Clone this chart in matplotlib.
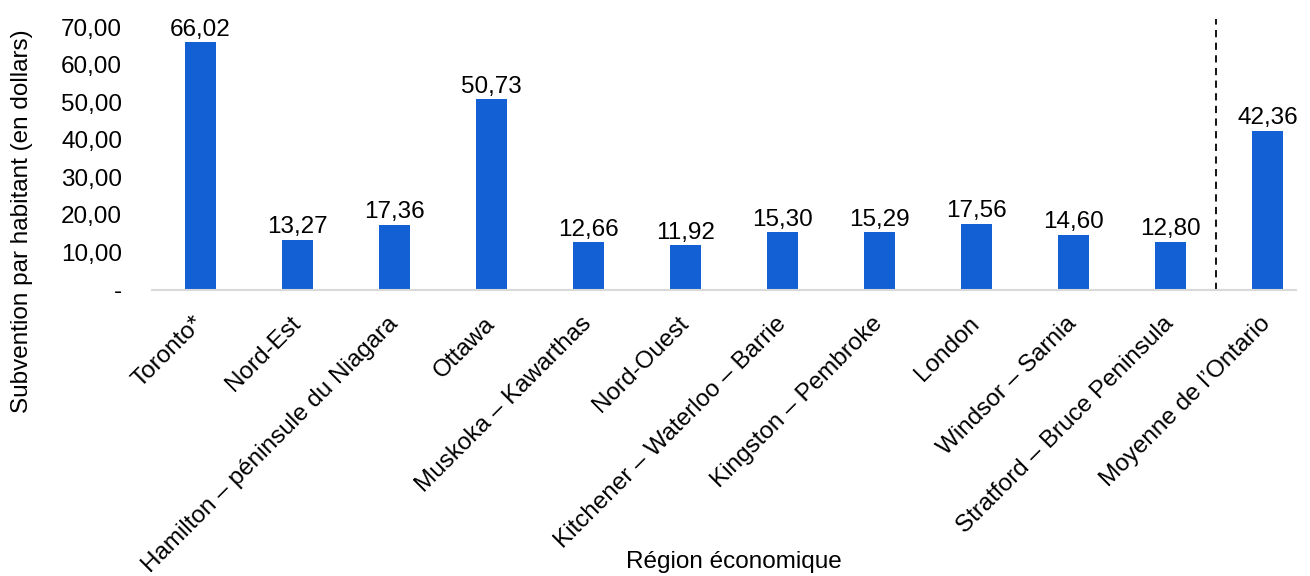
import matplotlib.pyplot as plt

plt.rcParams['font.family'] = ['Liberation Sans', 'DejaVu Sans']

regions = ['Toronto*', 'Nord-Est', 'Hamilton – péninsule du Niagara', 'Ottawa',
           'Muskoka – Kawarthas', 'Nord-Ouest', 'Kitchener – Waterloo – Barrie',
           'Kingston – Pembroke', 'London', 'Windsor – Sarnia',
           'Stratford – Bruce Peninsula', "Moyenne de l’Ontario"]
subvention = [66.02, 13.27, 17.36, 50.73, 12.66, 11.92, 15.30, 15.29, 17.56, 14.60, 12.80, 42.36]
yticks = [0, 10, 20, 30, 40, 50, 60, 70]
ytick_labels = ['-', '10,00', '20,00', '30,00', '40,00', '50,00', '60,00', '70,00']

fs = 17.5
fig = plt.figure(figsize=(13.1, 5.76), dpi=100)
ax = fig.add_axes([0.116, 0.497, 0.873, 0.456])

x = list(range(len(regions)))
ax.bar(x, subvention, width=0.32, color='#1260d4', zorder=2)
for xi, v in zip(x, subvention):
    ax.text(xi, v + 0.4, f'{v:.2f}'.replace('.', ','), ha='center', va='bottom', fontsize=fs)

# separator before the provincial average
ax.axvline(10.47, ymin=0, ymax=1.03, color='black', linestyle=(0, (4, 3)), linewidth=1.3, clip_on=False)

ax.set_xlim(-0.5, 11.29)
ax.set_ylim(0, 70)
ax.set_yticks(yticks)
ax.set_yticklabels(ytick_labels, fontsize=fs)
ax.set_xticks(x)
ax.set_xticklabels(regions, rotation=45, ha='right', va='center', rotation_mode='anchor', fontsize=fs)
ax.tick_params(length=0)
ax.tick_params(axis='y', pad=21.5)
ax.tick_params(axis='x', pad=22)

for s in ['top', 'right', 'left']:
    ax.spines[s].set_visible(False)
ax.spines['bottom'].set_color('#d9d9d9')
ax.spines['bottom'].set_linewidth(1.5)

fig.text(0.017, 0.616, 'Subvention par habitant (en dollars)', rotation=90,
         ha='center', va='center', fontsize=fs)
fig.text(0.56, 0.025, 'Région économique', ha='center', va='center', fontsize=fs)

fig.savefig('out.png')
